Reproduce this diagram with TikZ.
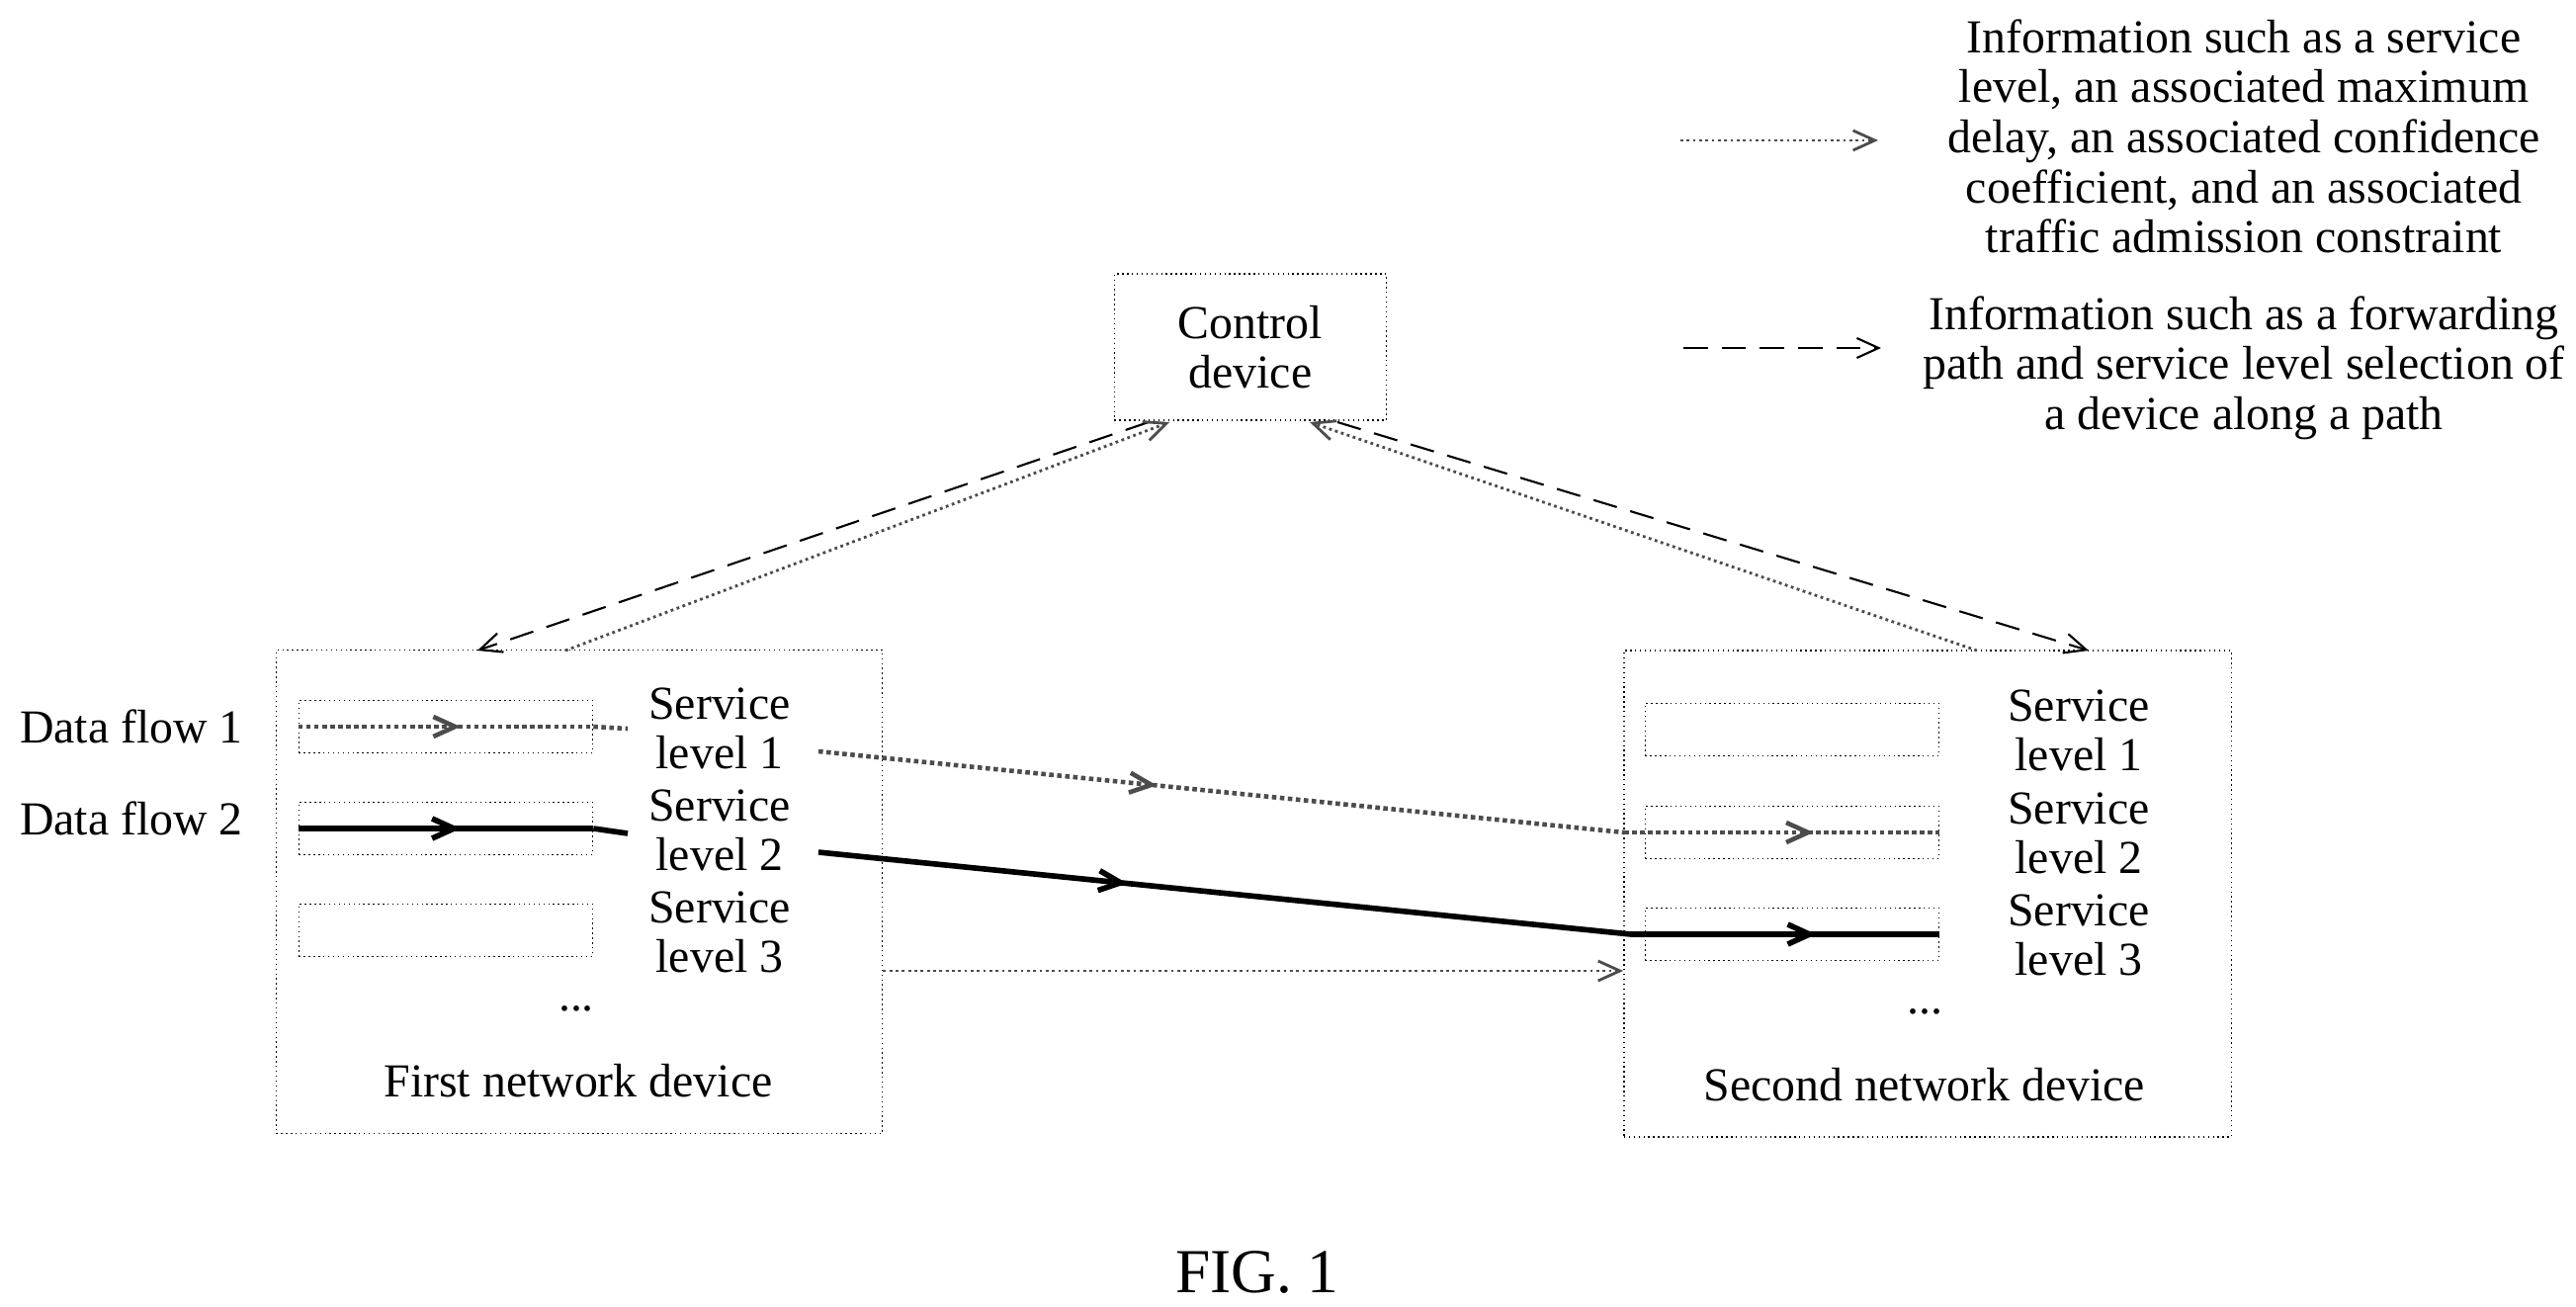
\documentclass[tikz,border=0pt]{standalone}
\usepackage{fontspec}
\setmainfont{Liberation Serif}
\usetikzlibrary{arrows.meta,decorations.markings}
\begin{document}
\begin{tikzpicture}[x=0.01cm,y=-0.01cm,>={Straight Barb[length=2.2mm,width=2mm]},
	every node/.style={font=\fontsize{13.6}{14.4}\selectfont},
	box/.style={draw,densely dotted,inner sep=0pt},
	slot/.style={draw,densely dotted,minimum width=2.97cm,minimum height=0.53cm,inner sep=0pt},
	lvl/.style={align=center},
	info/.style={densely dotted,line width=0.8pt,gray!60!black},
	path/.style={dash pattern=on 7pt off 4pt,line width=0.6pt},
	mid/.style={postaction={decorate},decoration={markings,mark=at position #1 with {\arrow{>}}}}]
	\useasboundingbox (0,0) rectangle (2606,1321);
	% devices
	\node[box,minimum width=2.75cm,minimum height=1.48cm,align=center] (ctrl) at (1265,351) {Control\\device};
	\node[box,minimum width=6.13cm,minimum height=4.89cm] (dev1) at (586,902) {};
	\node[box,minimum width=6.14cm,minimum height=4.92cm] (dev2) at (1950,904) {};
	% service level slots
	\node[slot] (a1) at (451,735) {};
	\node[slot] (a2) at (451,838) {};
	\node[slot] (a3) at (451,941) {};
	\node[slot] (b1) at (1813,738) {};
	\node[slot] (b2) at (1813,842) {};
	\node[slot] (b3) at (1813,945) {};
	\node[lvl] (la1) at (728,737) {Service\\level 1};
	\node[lvl] (la2) at (728,840) {Service\\level 2};
	\node[lvl] (la3) at (728,943) {Service\\level 3};
	\node[lvl] (lb1) at (2103,739) {Service\\level 1};
	\node[lvl] (lb2) at (2103,843) {Service\\level 2};
	\node[lvl] (lb3) at (2103,946) {Service\\level 3};
	\node (dotsa) at (583,1020) {...};
	\node (dotsb) at (1947,1023) {...};
	\node (na) at (585,1093) {First network device};
	\node (nb) at (1947,1097) {Second network device};
	\node (f1) at (133,735) {Data flow 1};
	\node (f2) at (133,828) {Data flow 2};
	% data flows
	\coordinate (p1) at (635,737);
	\coordinate (q1) at (828,760);
	\coordinate (k1) at (1643,842);
	\coordinate (p2) at (635,843);
	\coordinate (q2) at (828,862);
	\coordinate (k2) at (1650,945);
	\draw[info,line width=1.3pt,mid=0.55] (a1.west) -- (a1.east);
	\draw[info,line width=1.3pt] (a1.east) -- (p1);
	\draw[info,line width=1.3pt,mid=0.42] (q1) -- (k1);
	\draw[info,line width=1.3pt,mid=0.6] (k1) -- (b2.east);
	\draw[line width=1.6pt,mid=0.55] (a2.west) -- (a2.east);
	\draw[line width=1.6pt] (a2.east) -- (p2);
	\draw[line width=1.6pt,mid=0.38] (q2) -- (k2);
	\draw[line width=1.6pt,mid=0.6] (k2) -- (b3.east);
	\draw[info,->] (dev1.east |- 0,982) -- (dev2.west |- 0,982);
	% to and from the control device
	\coordinate (c1) at (1162,427);
	\coordinate (c2) at (1183,427);
	\coordinate (c3) at (1325,427);
	\coordinate (c4) at (1353,427);
	\coordinate (d1) at (483,658);
	\coordinate (d2) at (572,658);
	\coordinate (e1) at (2000,658);
	\coordinate (e2) at (2113,658);
	\draw[path,->] (c1) -- (d1);
	\draw[info,->] (d2) -- (c2);
	\draw[info,->] (e1) -- (c3);
	\draw[path,->] (c4) -- (e2);
	% legend
	\coordinate (l1) at (1700,142);
	\coordinate (l2) at (1900,142);
	\coordinate (l3) at (1703,352);
	\coordinate (l4) at (1903,352);
	\draw[info,->] (l1) -- (l2);
	\draw[path,->] (l3) -- (l4);
	\node[align=center] (t1) at (2270,138) {Information such as a service\\level, an associated maximum\\delay, an associated confidence\\coefficient, and an associated\\traffic admission constraint};
	\node[align=center] (t2) at (2270,372) {Information such as a forwarding\\path and service level selection of\\a device along a path};
	\node[font=\fontsize{18}{20}\selectfont] (fig) at (1272,1287) {FIG. 1};
\end{tikzpicture}
\end{document}
